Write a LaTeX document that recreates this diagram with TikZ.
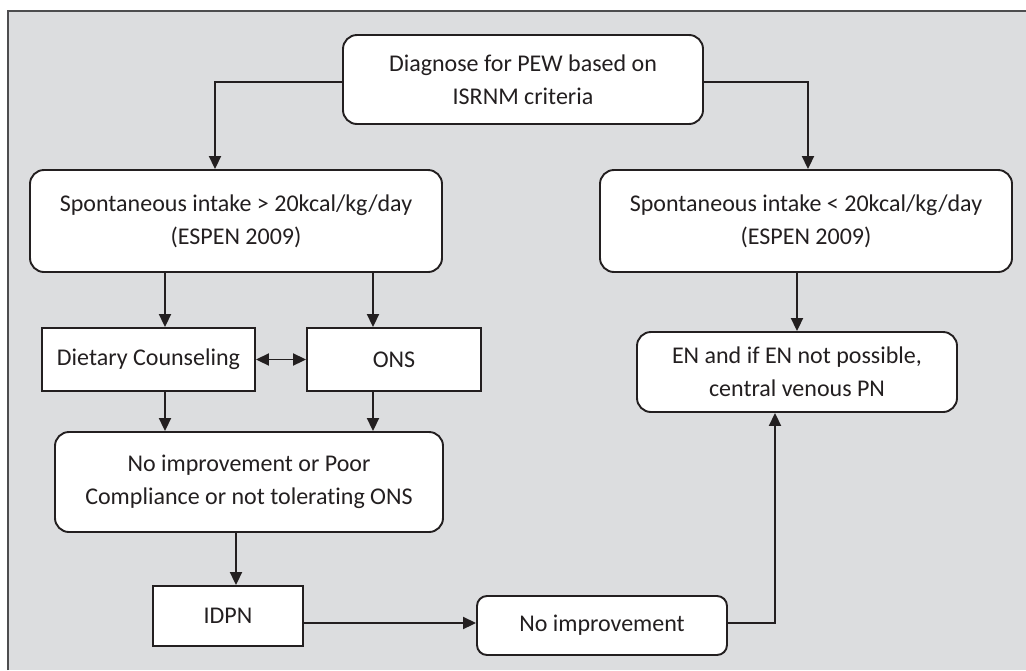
\documentclass[tikz,border=0pt]{standalone}
\usepackage{fontspec}
\setmainfont{Carlito}[Ligatures={NoCommon}]
\usetikzlibrary{arrows.meta,calc}
\definecolor{bg}{HTML}{DCDDDF}
\definecolor{ink}{HTML}{231F20}
\definecolor{frame}{HTML}{4D4D4F}
\begin{document}
\begin{tikzpicture}[x=1pt,y=-1pt,
  box/.style={draw=ink,line width=1.9pt,fill=white,align=center,inner sep=0pt,
    text=ink,font=\fontsize{24}{33}\selectfont},
  rbox/.style={box,rounded corners=14pt},
  sbox/.style={box,rounded corners=10pt},
  arr/.style={draw=ink,line width=1.9pt,-{Triangle[length=13pt,width=12pt]}},
  darr/.style={draw=ink,line width=1.9pt,{Triangle[length=13pt,width=12pt]}-{Triangle[length=13pt,width=12pt]}}]
\useasboundingbox (0,0) rectangle (1026,670);
\fill[white] (0,0) rectangle (1026,670);
\fill[bg] (8,11) rectangle (1026,670);
\draw[frame,line width=2pt] (8,670) -- (8,11) -- (1026,11);

\node[rbox,minimum width=360pt,minimum height=89pt] (diag) at (523,79.5)
  {Diagnose for PEW based on\\ISRNM criteria};
\node[rbox,minimum width=412pt,minimum height=102pt] (left) at (236,221)
  {Spontaneous intake > 20kcal/kg/day\\(ESPEN 2009)};
\node[rbox,minimum width=412pt,minimum height=102pt] (right) at (806,221)
  {Spontaneous intake < 20kcal/kg/day\\(ESPEN 2009)};
\node[box,minimum width=213pt,minimum height=63pt] (diet) at (148.5,359.5)
  {Dietary Counseling};
\node[box,minimum width=174pt,minimum height=63pt] (ons) at (394,359.5) {ONS};
\node[rbox,minimum width=320pt,minimum height=80pt] (en) at (797,372)
  {EN and if EN not possible,\\central venous PN};
\node[rbox,minimum width=388pt,minimum height=100pt] (noimpA) at (249,482)
  {No improvement or Poor\\Compliance or not tolerating ONS};
\node[box,minimum width=150pt,minimum height=60pt] (idpn) at (228,616) {IDPN};
\node[sbox,minimum width=250pt,minimum height=59pt] (noimpB) at (602,625.5)
  {No improvement};

\coordinate (xL) at (215,0);
\coordinate (xR) at (808,0);
\coordinate (xA) at (165,0);
\coordinate (xB) at (373,0);
\coordinate (xC) at (236,0);
\coordinate (xE) at (775,0);
\coordinate (yD) at (0,623);
\coordinate (yT) at (0,82);

\draw[arr] (diag.west |- yT) -| (left.north -| xL);
\draw[arr] (diag.east |- yT) -| (right.north -| xR);
\draw[arr] (right.south -| en.north) -- (en.north);
\draw[arr] (left.south -| xA) -- (diet.north -| xA);
\draw[arr] (left.south -| xB) -- (ons.north -| xB);
\draw[darr] (diet.east) -- (ons.west);
\draw[arr] (diet.south -| xA) -- (noimpA.north -| xA);
\draw[arr] (ons.south -| xB) -- (noimpA.north -| xB);
\draw[arr] (noimpA.south -| xC) -- (idpn.north -| xC);
\draw[arr] (idpn.east |- yD) -- (noimpB.west |- yD);
\draw[arr] (noimpB.east |- yD) -| (en.south -| xE);
\end{tikzpicture}
\end{document}
